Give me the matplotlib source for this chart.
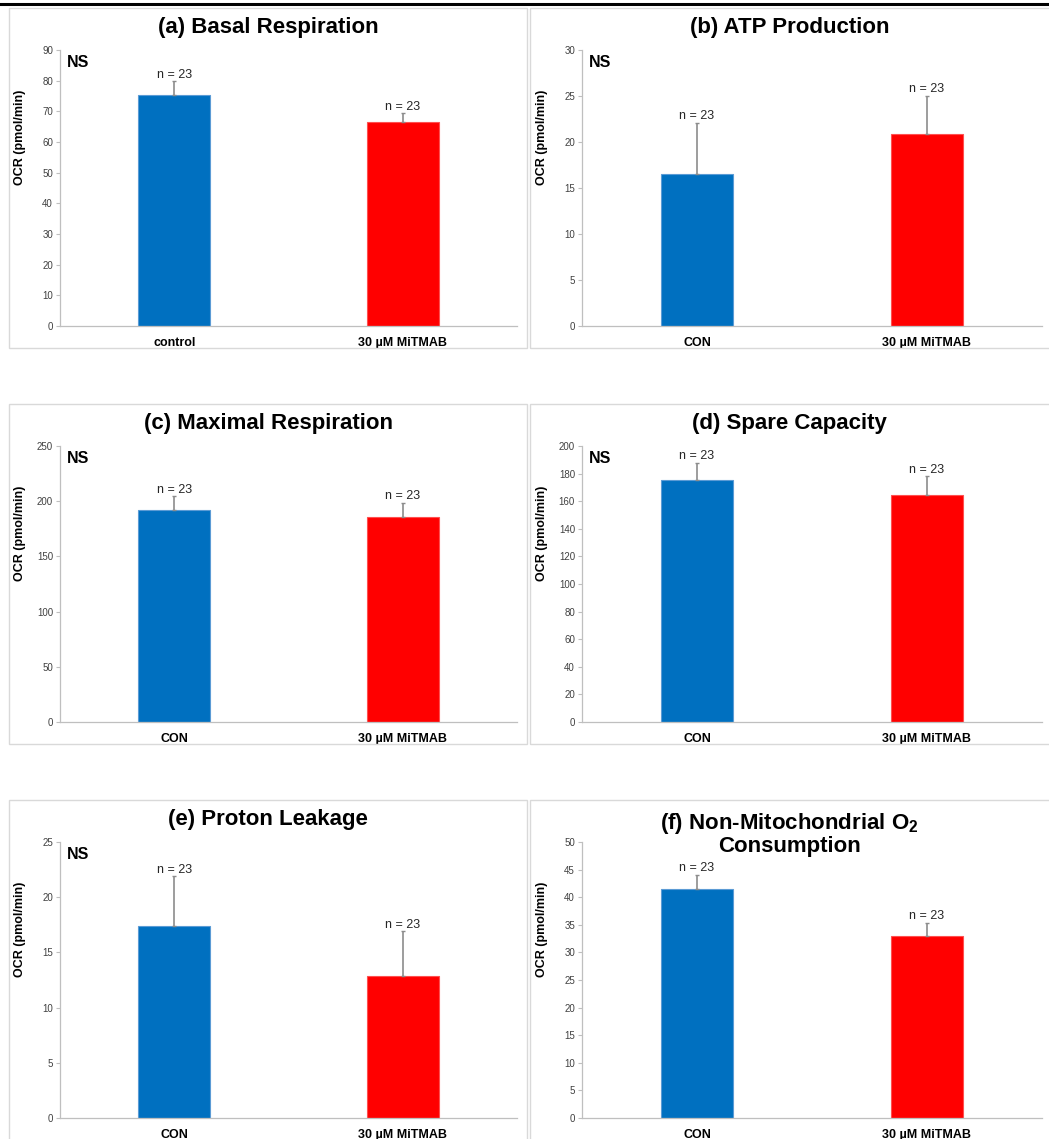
import matplotlib
matplotlib.use("Agg")
import matplotlib.pyplot as plt
from matplotlib.patches import Rectangle
from matplotlib.lines import Line2D

plt.rcParams['font.family'] = ['Liberation Sans', 'DejaVu Sans']
plt.rcParams['mathtext.fontset'] = 'custom'
plt.rcParams['mathtext.rm'] = 'Liberation Sans'
plt.rcParams['mathtext.bf'] = 'Liberation Sans:bold'

# ---- data ----
titles = ["(a) Basal Respiration", "(b) ATP Production", "(c) Maximal Respiration",
          "(d) Spare Capacity", "(e) Proton Leakage",
          "(f) Non-Mitochondrial O$_{\\mathbf{2}}$\nConsumption"]
cat_a = ["control", "30 µM MiTMAB"]
cat_other = ["CON", "30 µM MiTMAB"]
means_a = [75.4, 66.6]
err_a = [4.4, 2.7]
means_b = [16.5, 20.9]
err_b = [5.6, 4.1]
means_c = [191.6, 185.8]
err_c = [12.9, 13.0]
means_d = [175.4, 164.8]
err_d = [12.6, 13.3]
means_e = [17.4, 12.9]
err_e = [4.5, 4.0]
means_f = [41.5, 32.9]
err_f = [2.5, 2.5]
ymax = [90, 30, 250, 200, 25, 50]
ystep = [10, 5, 50, 20, 5, 5]
n_label = "n = 23"
sig_label = "NS"

all_means = [means_a, means_b, means_c, means_d, means_e, means_f]
all_errs = [err_a, err_b, err_c, err_d, err_e, err_f]
all_cats = [cat_a] + [cat_other] * 5
colors = ["#0070C0", "#FF0000"]
edges = ["#5B9BD5", "#FF5050"]

W, H = 1049, 1139
fig = plt.figure(figsize=(W / 100, H / 100), dpi=100)

def rect(l, t, r, b):
    return [l / W, 1 - b / H, (r - l) / W, (b - t) / H]

# panel boxes (l, t, r, b) and axes rects
boxes = [(9, 8, 527, 348), (530, 8, 1052, 348),
         (9, 404, 527, 744), (530, 404, 1052, 744),
         (9, 800, 527, 1142), (530, 800, 1052, 1142)]
axes_px = [(60, 50, 517, 326), (582, 50, 1042, 326),
           (60, 446, 517, 722), (582, 446, 1042, 722),
           (60, 842, 517, 1118), (582, 842, 1042, 1118)]
title_y = [27, 27, 423, 423, 820, 834]

# top black line
fig.add_artist(Line2D([0, 1], [1 - 4 / H, 1 - 4 / H], color='black', lw=2.2,
                      transform=fig.transFigure))

for i in range(6):
    l, t, r, b = boxes[i]
    fig.add_artist(Rectangle((l / W, 1 - b / H), (r - l) / W, (b - t) / H,
                             transform=fig.transFigure, fill=False,
                             edgecolor='#D9D9D9', lw=1.0))
    ax = fig.add_axes(rect(*axes_px[i]))
    cats = all_cats[i]
    x = list(range(len(cats)))
    m = all_means[i]
    e = all_errs[i]
    ax.bar(x, m, width=0.315, color=colors, edgecolor=edges, linewidth=0.8, zorder=2)
    ax.errorbar(x, m, yerr=[[0, 0], e], fmt='none', ecolor='#8C8C8C',
                elinewidth=1.2, capsize=1.5, capthick=1.0, zorder=3)
    for xi, mi, ei in zip(x, m, e):
        ax.annotate(n_label, (xi, mi + ei), xytext=(0, 0.5), textcoords='offset points',
                    ha='center', va='bottom', fontsize=9, color='#262626')
    ax.set_xlim(-0.5, 1.5)
    ax.set_ylim(0, ymax[i])
    ax.set_yticks(list(range(0, ymax[i] + 1, ystep[i])))
    ax.set_xticks(x)
    ax.set_xticklabels(cats, fontsize=9, fontweight='bold', color='#000000')
    ax.tick_params(axis='x', length=0, pad=8)
    ax.tick_params(axis='y', length=3, width=0.8, color='#BFBFBF', labelsize=7,
                   labelcolor='#404040', pad=2)
    for s in ['top', 'right']:
        ax.spines[s].set_visible(False)
    ax.spines['left'].set_color('#BFBFBF')
    ax.spines['bottom'].set_color('#BFBFBF')
    ax.spines['left'].set_linewidth(0.9)
    ax.spines['bottom'].set_linewidth(0.9)
    ax.set_ylabel("OCR (pmol/min)", fontsize=9, fontweight='bold')
    axw = axes_px[i][2] - axes_px[i][0]
    ax.yaxis.set_label_coords(-34 / axw, 0.685)
    if i != 5:
        ax.text(7 / axw, 1 - 5 / 276, sig_label, transform=ax.transAxes, ha='left',
                va='top', fontsize=11.5, fontweight='bold')
    else:
        pass
    fig.text((l + min(r, 1049)) / 2 / W + (0.0 if r < 1049 else 0.0), 1 - title_y[i] / H,
             titles[i], ha='center', va='center', fontsize=16, fontweight='bold',
             linespacing=0.95)

fig.savefig("out.png", dpi=100)
